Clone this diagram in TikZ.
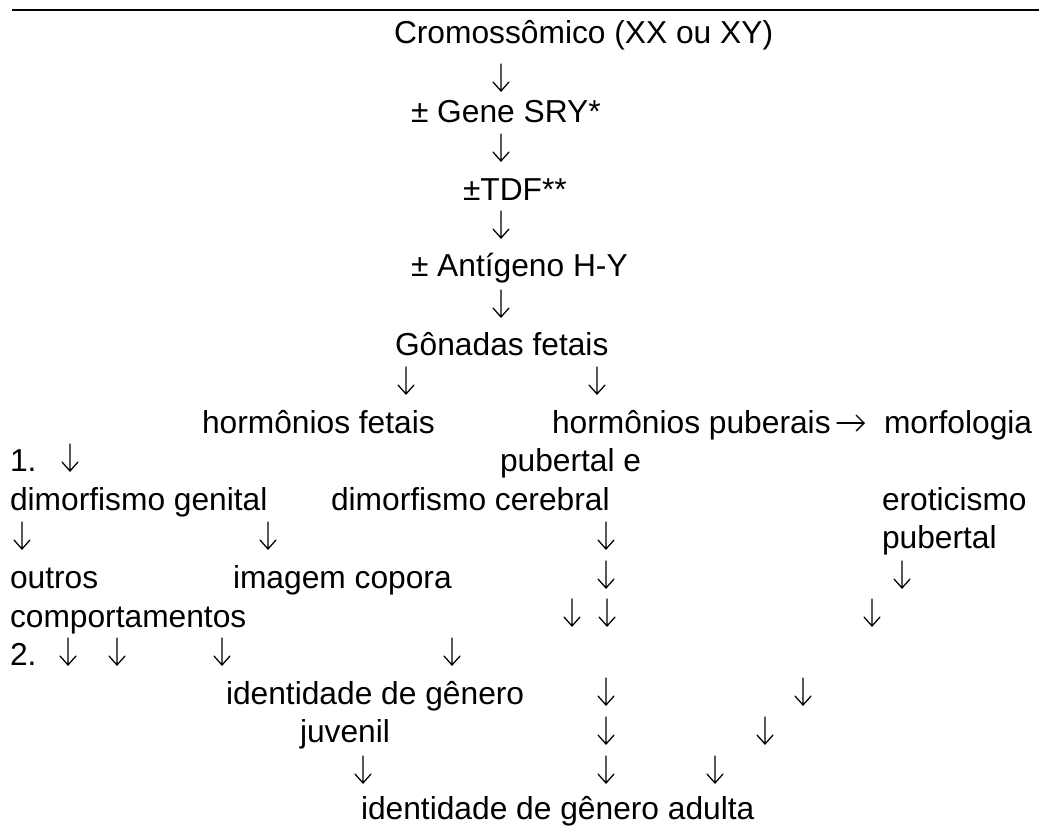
\documentclass[tikz,border=0pt]{standalone}
\usepackage{fontspec}
\setmainfont{Liberation Sans}
\usetikzlibrary{arrows.meta,calc}
\tikzset{
  txt/.style={anchor=base west,inner sep=0pt,outer sep=0pt,font=\fontsize{23.8pt}{28pt}\selectfont},
  darr/.pic={\draw[line width=0.95pt,line cap=round,line join=miter] (0,-27) -- (0,0) (-8,-9) -- (0,0) -- (8,-9);},
  rarr/.style={line width=0.95pt,line cap=round,-{Straight Barb[length=6pt,width=12pt]}},
  rule/.style={line width=1.1pt}
}
\begin{document}
\begin{tikzpicture}[x=0.75pt,y=-0.75pt]
\useasboundingbox (0,0) rectangle (1039,826);
% top rule
\coordinate (r1) at (12,10);
\coordinate (r2) at (1039,10);
\draw[rule] (r1) -- (r2);
% texts
\node[txt] (crom) at (394,43) {Cromossômico (XX ou XY)};
\node[txt] (sry) at (411,122) {± Gene SRY*};
\node[txt] (tdf) at (463,200) {±TDF**};
\node[txt] (hy) at (411,276) {± Antígeno H-Y};
\node[txt] (gon) at (395,355) {Gônadas fetais};
\node[txt] (hf) at (202,433) {hormônios fetais};
\node[txt] (hp) at (552,433) {hormônios puberais};
\node[txt] (morf) at (884,433) {morfologia};
\node[txt] (n1) at (10,471) {1.};
\node[txt] (pube) at (500,471) {pubertal e};
\node[txt] (dg) at (10,510) {dimorfismo genital};
\node[txt] (dc) at (331,510) {dimorfismo cerebral};
\node[txt] (ero) at (882,510) {eroticismo};
\node[txt] (pub) at (882,548) {pubertal};
\node[txt] (out) at (10,588) {outros};
\node[txt] (img) at (233,588) {imagem copora};
\node[txt] (comp) at (10,627) {comportamentos};
\node[txt] (n2) at (10,665) {2.};
\node[txt] (idj) at (226,704) {identidade de gênero};
\node[txt] (juv) at (300,742) {juvenil};
\node[txt] (ida) at (361,819) {identidade de gênero adulta};
% horizontal arrow between hp and morf
\coordinate (ha) at ($(morf.base west)+(-47,-10)$);
\coordinate (hb) at ($(morf.base west)+(-19,-10)$);
\draw[rarr] (ha) -- (hb);
% down arrows (glyphs)
\foreach \x/\y in {501/91,501/161,501/238,501/317,
  406/394,597/394,
  70/471,
  22/549,268/549,606/549,
  606/588,902/588,
  572/626,607/626,872/626,
  68/665,117/665,222/665,452/665,
  606/705,803/705,
  606/744,765/744,
  363/783,606/783,715/783}
  \pic at (\x,\y) {darr};
\end{tikzpicture}
\end{document}
